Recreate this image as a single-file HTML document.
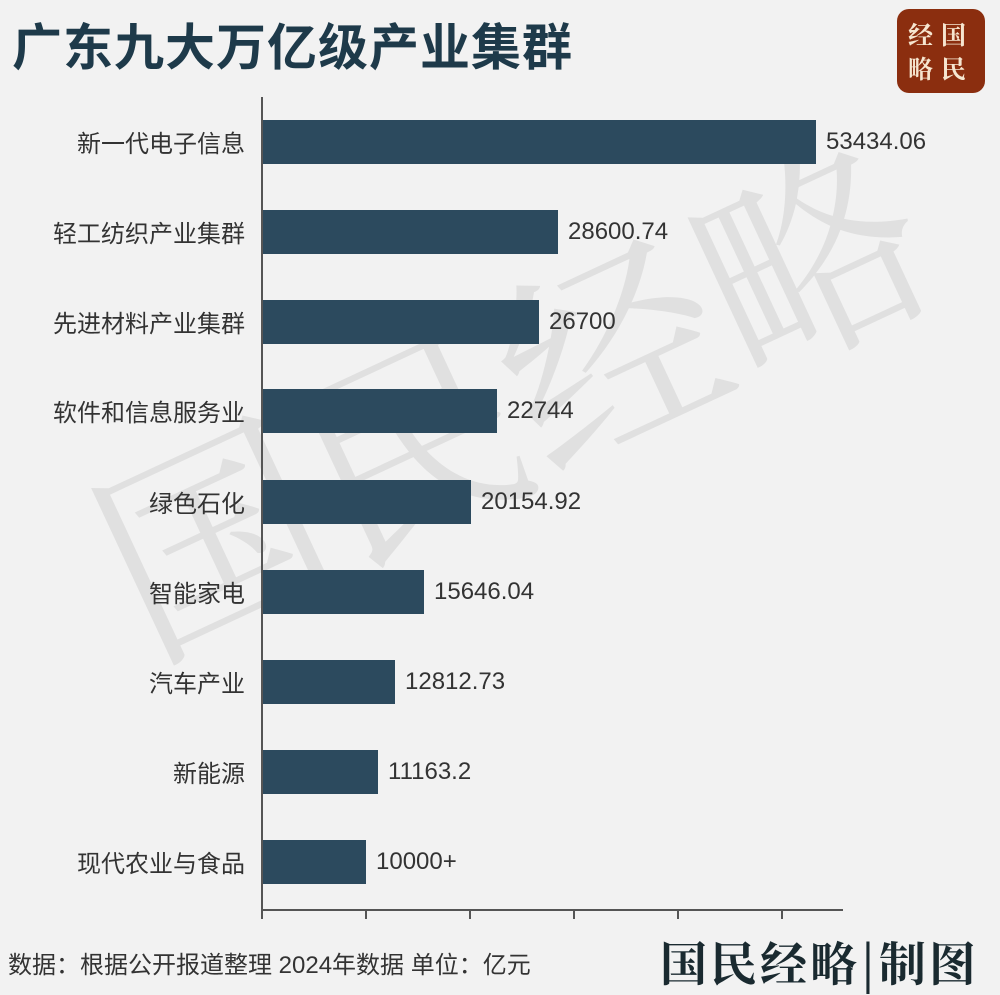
<!DOCTYPE html>
<html><head><meta charset="utf-8"><style>
body{margin:0;width:1000px;height:991px;background:#f2f2f2;overflow:hidden;position:relative;font-family:"Liberation Sans","Noto Sans CJK SC",sans-serif;}
.t{position:absolute;left:12px;top:8px;font-size:50px;font-weight:bold;color:#1e3a4a;letter-spacing:1px;}
.logo{position:absolute;left:897px;top:9px;width:88px;height:84px;background:#8b2e0f;border-radius:12px;color:#f6e6d0;font-family:"Noto Serif CJK SC",serif;font-weight:bold;font-size:25px;line-height:34px;text-align:center;padding-top:8px;box-sizing:border-box;letter-spacing:8px;}
.wm{position:absolute;left:40px;top:430px;font-family:"Noto Serif CJK SC",serif;font-size:220px;color:#ccc;opacity:.45;transform:rotate(-25deg);transform-origin:left top;white-space:nowrap;}
.lab{position:absolute;right:755px;font-size:24px;color:#333;text-align:right;white-space:nowrap;}
.bar{position:absolute;left:263px;height:44px;background:#2c4a5e;}
.v{position:absolute;font-size:24px;color:#333;}
.ax{position:absolute;background:#555;}
.foot{position:absolute;left:8px;top:945px;font-size:24px;color:#333;}
.sig{position:absolute;left:660px;top:928px;font-family:"Noto Serif CJK SC",serif;font-weight:bold;font-size:47px;color:#1a2a30;letter-spacing:3px;}
</style></head><body>
<div class="wm">国民经略</div>
<div class="t">广东九大万亿级产业集群</div>
<div class="logo">经国<br>略民</div>
<div class="ax" style="left:261px;top:97px;width:2px;height:814px"></div>
<div class="ax" style="left:261px;top:909px;width:582px;height:2px"></div>
<div class="ax" style="left:261px;top:909px;width:2px;height:10px"></div>
<div class="ax" style="left:365px;top:909px;width:2px;height:10px"></div>
<div class="ax" style="left:469px;top:909px;width:2px;height:10px"></div>
<div class="ax" style="left:573px;top:909px;width:2px;height:10px"></div>
<div class="ax" style="left:677px;top:909px;width:2px;height:10px"></div>
<div class="ax" style="left:781px;top:909px;width:2px;height:10px"></div>

<div class="lab" style="top:124px">新一代电子信息</div><div class="bar" style="top:120px;width:553px"></div><div class="v" style="left:826px;top:128px">53434.06</div>
<div class="lab" style="top:214px">轻工纺织产业集群</div><div class="bar" style="top:210px;width:295px"></div><div class="v" style="left:568px;top:218px">28600.74</div>
<div class="lab" style="top:304px">先进材料产业集群</div><div class="bar" style="top:300px;width:276px"></div><div class="v" style="left:549px;top:308px">26700</div>
<div class="lab" style="top:393px">软件和信息服务业</div><div class="bar" style="top:389px;width:234px"></div><div class="v" style="left:507px;top:397px">22744</div>
<div class="lab" style="top:484px">绿色石化</div><div class="bar" style="top:480px;width:208px"></div><div class="v" style="left:481px;top:488px">20154.92</div>
<div class="lab" style="top:574px">智能家电</div><div class="bar" style="top:570px;width:161px"></div><div class="v" style="left:434px;top:578px">15646.04</div>
<div class="lab" style="top:664px">汽车产业</div><div class="bar" style="top:660px;width:132px"></div><div class="v" style="left:405px;top:668px">12812.73</div>
<div class="lab" style="top:754px">新能源</div><div class="bar" style="top:750px;width:115px"></div><div class="v" style="left:388px;top:758px">11163.2</div>
<div class="lab" style="top:844px">现代农业与食品</div><div class="bar" style="top:840px;width:103px"></div><div class="v" style="left:376px;top:848px">10000+</div>

<div class="foot">数据：根据公开报道整理 2024年数据 单位：亿元</div>
<div class="sig">国民经略|制图</div>
</body></html>
